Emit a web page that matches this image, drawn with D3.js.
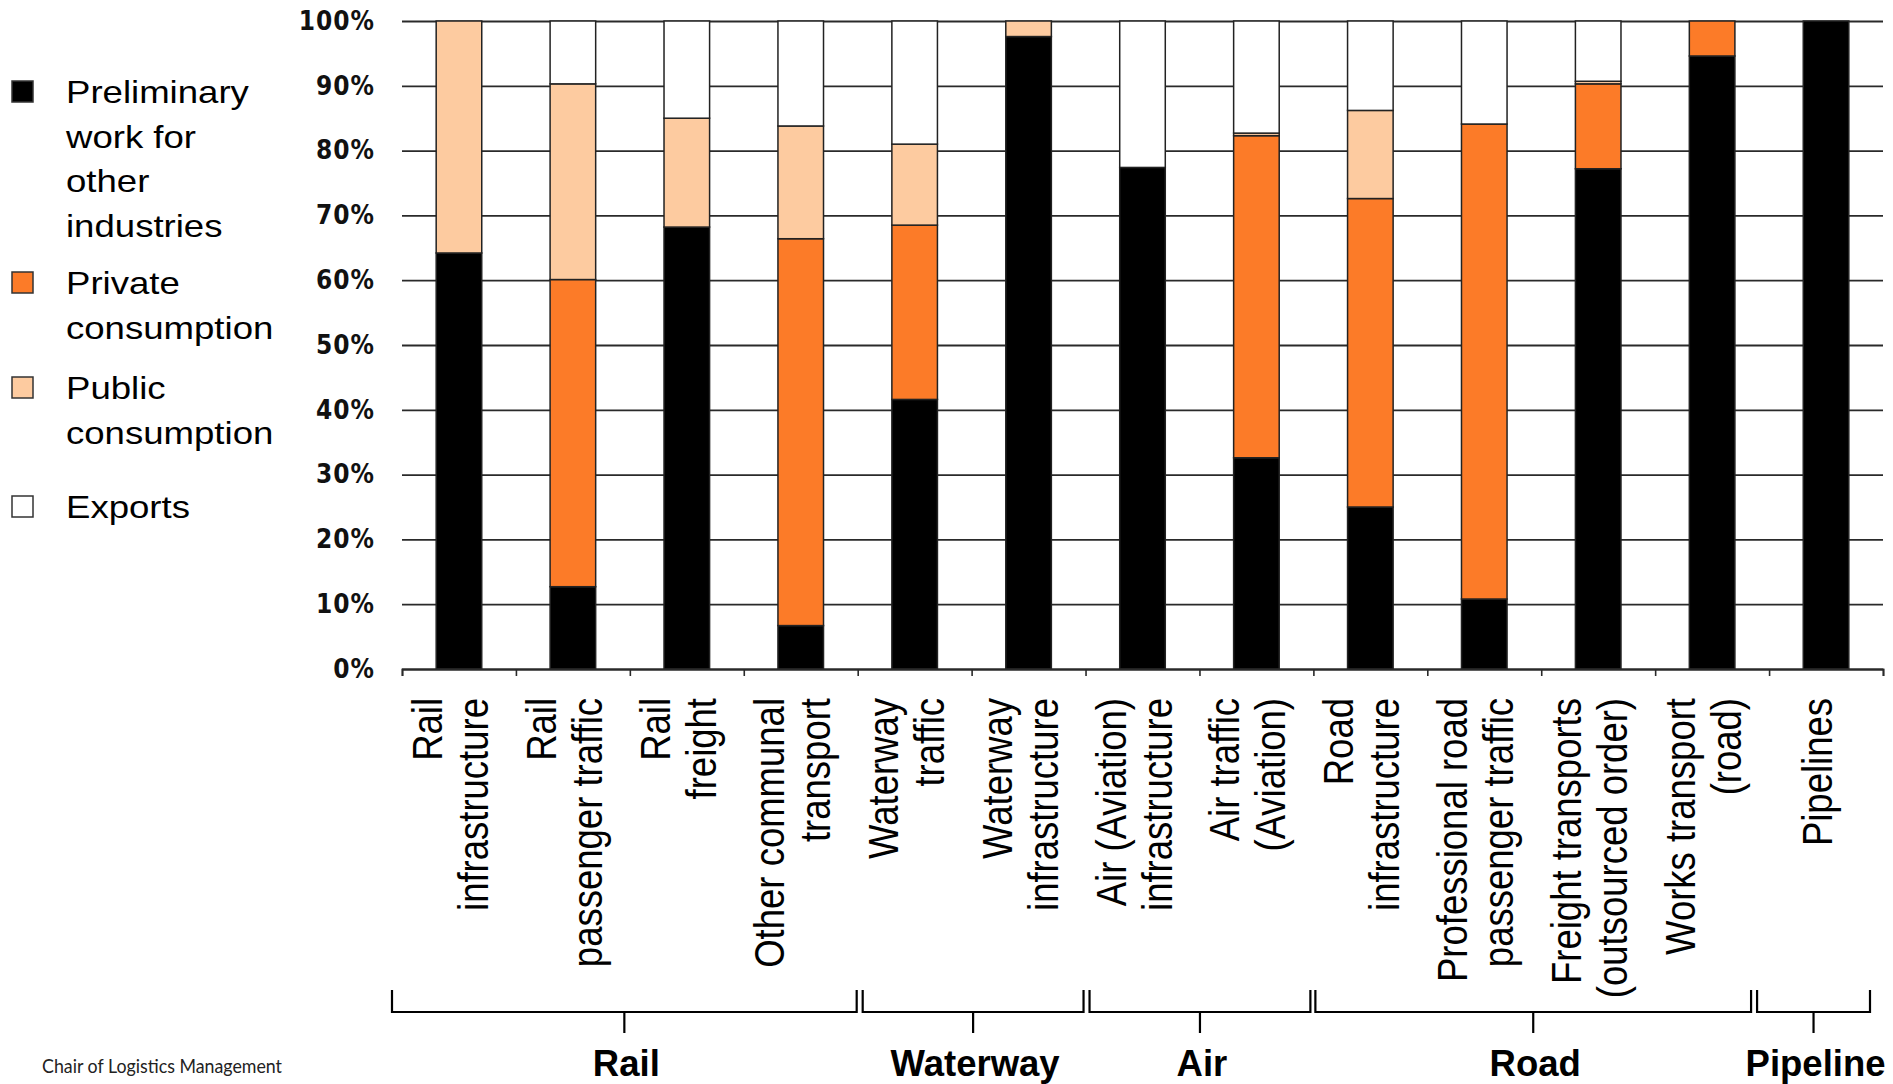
<!DOCTYPE html>
<html>
<head>
<meta charset="utf-8">
<script src="https://cdn.jsdelivr.net/npm/d3@7"></script>
<style>
  html, body { margin: 0; padding: 0; background: #ffffff; }
  svg { display: block; }
</style>
</head>
<body>
<div id="chart"></div>
<script>
// ---------------- DATA ----------------
const categories = [
  "Rail\ninfrastructure",
  "Rail\npassenger traffic",
  "Rail\nfreight",
  "Other communal\ntransport",
  "Waterway\ntraffic",
  "Waterway\ninfrastructure",
  "Air (Aviation)\ninfrastructure",
  "Air traffic\n(Aviation)",
  "Road\ninfrastructure",
  "Professional road\npassenger traffic",
  "Freight transports\n(outsourced order)",
  "Works transport\n(road)",
  "Pipelines"
];
const seriesNames = ["Preliminary work for other industries", "Private consumption", "Public consumption", "Exports"];
const legendLines = [
  ["Preliminary", "work for", "other", "industries"],
  ["Private", "consumption"],
  ["Public", "consumption"],
  ["Exports"]
];
const preliminary = [64.2, 12.7, 68.2, 6.7, 41.6, 97.6, 77.4, 32.6, 25.0, 10.8, 77.2, 94.6, 100];
const privateCons = [0, 47.4, 0, 59.7, 26.9, 0, 0, 49.7, 47.6, 73.3, 13.1, 5.4, 0];
const publicCons  = [35.8, 30.2, 16.8, 17.4, 12.5, 2.4, 0, 0.4, 13.6, 0, 0.4, 0, 0];
const exportsVal  = [0, 9.7, 15.0, 16.2, 19.0, 0, 22.6, 17.3, 13.8, 15.9, 9.3, 0, 0];
const yTicks = [0, 10, 20, 30, 40, 50, 60, 70, 80, 90, 100];
const groups = ["Rail", "Waterway", "Air", "Road", "Pipeline"];
const groupStart = [0, 4, 6, 8, 12];
const groupEnd = [4, 6, 8, 12, 13];
const footerText = "Chair of Logistics Management";

// ---------------- LAYOUT / STYLE ----------------
const W = 1893, H = 1084;
const plot = { left: 402, right: 1883, top: 21, bottom: 669 };
const colors = ["#000000", "#fc7b28", "#fdcba0", "#ffffff"];
const legendBaselines = [103, 294, 399, 518];
const bracketInset = [[-10, 1], [5, 2], [4, 3], [2, 18], [-12, 13]];
const labelStretch = 1.15, legendStretch = 1.18;

const svg = d3.select("#chart").append("svg")
  .attr("width", W).attr("height", H)
  .attr("viewBox", `0 0 ${W} ${H}`);

const idx = categories.map((d, i) => i);
const x = d3.scaleBand().domain(idx).range([plot.left, plot.right])
  .paddingInner(0.6).paddingOuter(0.3);
const xb = d3.scaleLinear().domain([0, categories.length]).range([plot.left, plot.right]);
const y = d3.scaleLinear().domain([0, 100]).range([plot.bottom, plot.top]);

// gridlines + y labels
const yAxis = svg.append("g")
  .attr("transform", `translate(${plot.left},0)`)
  .call(d3.axisLeft(y).tickValues(yTicks).tickSize(-(plot.right - plot.left))
    .tickPadding(27).tickFormat(d => d + "%"));
yAxis.select(".domain").remove();
yAxis.selectAll(".tick line").attr("stroke", "#2a2a2a").attr("stroke-width", 1.8);
yAxis.selectAll(".tick text")
  .attr("font-family", "'DejaVu Sans Condensed', 'DejaVu Sans', sans-serif")
  .attr("font-weight", "bold")
  .attr("font-size", 26)
  .attr("letter-spacing", 1)
  .attr("fill", "#111");

// stacked bars
const table = idx.map(i => ({ i, vals: [preliminary[i], privateCons[i], publicCons[i], exportsVal[i]] }));
const stack = d3.stack().keys([0, 1, 2, 3]).value((d, k) => d.vals[k]);
const stacked = stack(table);

const barG = svg.append("g");
stacked.forEach((layer, k) => {
  barG.selectAll(null)
    .data(layer.filter(s => s[1] - s[0] > 0))
    .join("rect")
    .attr("x", s => x(s.data.i))
    .attr("width", x.bandwidth())
    .attr("y", s => y(s[1]))
    .attr("height", s => y(s[0]) - y(s[1]))
    .attr("fill", colors[k])
    .attr("stroke", "#222")
    .attr("stroke-width", 1.5);
});

// x axis with boundary ticks
const xAxis = svg.append("g")
  .attr("transform", `translate(0,${plot.bottom})`)
  .call(d3.axisBottom(xb).ticks(categories.length).tickSize(7).tickFormat(""));
xAxis.select(".domain").attr("stroke", "#2a2a2a").attr("stroke-width", 1.8);
xAxis.selectAll(".tick line").attr("stroke", "#2a2a2a").attr("stroke-width", 1.6);

// category labels (rotated)
const labelFont = "'Liberation Sans', Arial, Helvetica, sans-serif";
const lineH = 46;
svg.append("g").selectAll("text")
  .data(categories)
  .join("text")
  .attr("transform", (d, i) => `translate(${x(i) + x.bandwidth() / 2},698) scale(${labelStretch},1) rotate(-90)`)
  .attr("text-anchor", "end")
  .attr("font-family", labelFont)
  .attr("font-size", 36.5)
  .attr("fill", "#000")
  .each(function (d) {
    const lines = d.split("\n");
    const n = lines.length;
    d3.select(this).selectAll("tspan")
      .data(lines)
      .join("tspan")
      .attr("x", 0)
      .attr("y", (l, j) => ((j - (n - 1) / 2) * lineH + 6) / labelStretch)
      .text(l => l);
  });

// group brackets
const brG = svg.append("g").attr("stroke", "#000").attr("stroke-width", 2.2).attr("fill", "none");
groups.forEach((g, gi) => {
  const x0 = xb(groupStart[gi]) + bracketInset[gi][0];
  const x1 = xb(groupEnd[gi]) - bracketInset[gi][1];
  const xm = (x0 + x1) / 2;
  brG.append("path").attr("d", `M${x0},990 V1012 H${x1} V990`);
  brG.append("path").attr("d", `M${xm},1012 V1033`);
  svg.append("text")
    .attr("x", xm + 2).attr("y", 1076)
    .attr("text-anchor", "middle")
    .attr("font-family", labelFont)
    .attr("font-weight", "bold")
    .attr("font-size", 36.5)
    .attr("fill", "#000")
    .text(g);
});

// legend
const legG = svg.append("g");
legendLines.forEach((lines, k) => {
  const b = legendBaselines[k];
  legG.append("rect")
    .attr("x", 12).attr("y", b - 22)
    .attr("width", 21).attr("height", 21)
    .attr("fill", colors[k])
    .attr("stroke", "#333").attr("stroke-width", 1.5);
  const t = legG.append("text")
    .attr("transform", `translate(66,${b}) scale(${legendStretch},1)`)
    .attr("font-family", labelFont)
    .attr("font-size", 31)
    .attr("fill", "#000");
  t.selectAll("tspan").data(lines).join("tspan")
    .attr("x", 0).attr("y", (l, j) => j * 44.7)
    .text(l => l);
});

// footer
svg.append("text")
  .attr("x", 42).attr("y", 1073)
  .attr("font-family", "Lato, 'Open Sans', sans-serif")
  .attr("font-size", 20)
  .attr("textLength", 240)
  .attr("lengthAdjust", "spacingAndGlyphs")
  .attr("fill", "#222")
  .text(footerText);
</script>
</body>
</html>
